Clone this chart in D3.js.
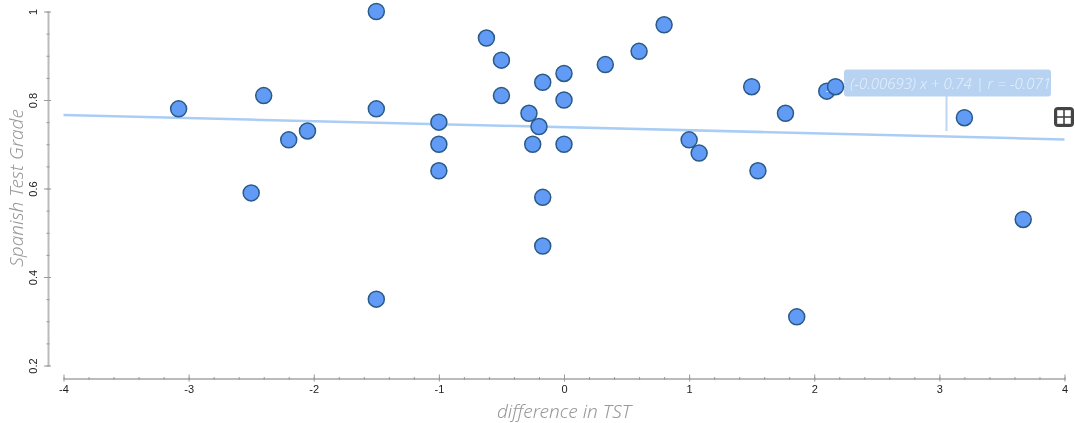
<!DOCTYPE html>
<html>
<head>
<meta charset="utf-8">
<script src="https://cdn.jsdelivr.net/npm/d3@7"></script>
<style>
  html, body { margin: 0; padding: 0; background: #fff; }
  svg { display: block; filter: blur(0.45px); }
</style>
</head>
<body>
<svg width="1075" height="423"></svg>
<script>
// values
var diffTST = [-3.08, -2.5, -2.4, -2.2, -2.05, -1.5, -1.5, -1.5, -1, -1, -1, -0.62, -0.5, -0.5, -0.28, -0.25, -0.2, -0.17, -0.17, -0.17, 0, 0, 0, 0.33, 0.6, 0.8, 1, 1.08, 1.5, 1.55, 1.77, 1.86, 2.1, 3.2, 3.67];
var spanish = [0.78, 0.59, 0.81, 0.71, 0.73, 1, 0.78, 0.35, 0.75, 0.7, 0.64, 0.94, 0.89, 0.81, 0.77, 0.7, 0.74, 0.84, 0.58, 0.47, 0.86, 0.8, 0.7, 0.88, 0.91, 0.97, 0.71, 0.68, 0.83, 0.64, 0.77, 0.31, 0.82, 0.76, 0.53];
// this one sits on top of the label
var topX = [2.17];
var topY = [0.83];
var trendX = [-4, 4];
var trendY = [0.766, 0.711];
var xTicks = [-4, -3, -2, -1, 0, 1, 2, 3, 4];
var yTicks = [0.2, 0.4, 0.6, 0.8, 1];
var xLabel = "difference in TST";
var yLabel = "Spanish Test Grade";
var fitLabel = "y = (-0.00693) x + 0.74 | r = -0.071";

var svg = d3.select("svg");
var x = d3.scaleLinear().domain([-4, 4]).range([63.5, 1064.5]);
var y = d3.scaleLinear().domain([0.2, 1]).range([365.5, 11.5]);

var handFont = "'Noto Sans', sans-serif";

// axes, major ticks plus small ticks in between
var xaxis = svg.append("g").attr("transform", "translate(0,378.5)");
xaxis.call(d3.axisBottom(x).tickValues(d3.range(-4, 4.01, 0.2)).tickSize(0).tickFormat(""));
xaxis.call(g => g.selectAll(".tick line").attr("y1", -1.5).attr("y2", 1.5).attr("stroke", "#999"));
var xmajor = svg.append("g").attr("transform", "translate(0,378.5)");
xmajor.call(d3.axisBottom(x).tickValues(xTicks).tickSize(4).tickFormat(function (d) { return String(d); }));
xmajor.selectAll(".tick line").attr("y1", -4).attr("y2", 3).attr("stroke", "#999");
xmajor.selectAll("text").attr("y", 7).attr("font-size", 11).attr("font-family", "'Liberation Sans', sans-serif").attr("fill", "#222");
xaxis.select(".domain").attr("stroke", "#bbb").attr("stroke-width", 2);
xmajor.select(".domain").remove();

var yaxis = svg.append("g").attr("transform", "translate(48,0)");
yaxis.call(d3.axisLeft(y).tickValues(d3.range(0.2, 1.001, 0.05)).tickSize(0).tickFormat(""));
yaxis.selectAll(".tick line").attr("x1", -1.5).attr("x2", 1.5).attr("stroke", "#999");
var ymajor = svg.append("g").attr("transform", "translate(48,0)");
ymajor.call(d3.axisLeft(y).tickValues(yTicks).tickSize(4).tickFormat(function (d) { return String(d); }));
ymajor.selectAll(".tick line").attr("x1", -4).attr("x2", 3).attr("stroke", "#999");
ymajor.selectAll("text")
  .attr("transform", "rotate(-90)")
  .attr("x", 0).attr("y", -11).attr("dy", 0)
  .attr("text-anchor", "middle")
  .attr("font-size", 11).attr("font-family", "'Liberation Sans', sans-serif").attr("fill", "#222");
yaxis.select(".domain").attr("stroke", "#bbb").attr("stroke-width", 2);
ymajor.select(".domain").remove();

// axis titles
svg.append("text")
  .attr("x", 564).attr("y", 418)
  .attr("text-anchor", "middle")
  .attr("font-family", handFont).attr("font-style", "italic").attr("font-weight", 300)
  .attr("font-size", 19).attr("fill", "#999")
  .text(xLabel);
svg.append("text")
  .attr("transform", "translate(23,188) rotate(-90)")
  .attr("text-anchor", "middle")
  .attr("font-family", handFont).attr("font-style", "italic").attr("font-weight", 300)
  .attr("font-size", 19).attr("fill", "#999")
  .text(yLabel);

// regression line
svg.append("line")
  .attr("x1", x(trendX[0])).attr("y1", y(trendY[0]))
  .attr("x2", x(trendX[1])).attr("y2", y(trendY[1]))
  .attr("stroke", "#aacdf5").attr("stroke-width", 2.5);

function dots(xs, ys) {
  svg.append("g").selectAll("circle")
    .data(xs)
    .enter().append("circle")
    .attr("cx", function (d) { return x(d); })
    .attr("cy", function (d, i) { return y(ys[i]); })
    .attr("r", 8)
    .attr("fill", "#619bf6")
    .attr("stroke", "#2a5a88")
    .attr("stroke-width", 1.5);
}

dots(diffTST, spanish);

// label for the fit
svg.append("line")
  .attr("x1", 946.5).attr("x2", 946.5).attr("y1", 96).attr("y2", 131)
  .attr("stroke", "#bcd6f2").attr("stroke-width", 2);
svg.append("rect")
  .attr("x", 844).attr("y", 69.5).attr("width", 207).attr("height", 27).attr("rx", 3)
  .attr("fill", "#b7d3f1");
svg.append("text")
  .attr("x", 1051).attr("y", 89)
  .attr("text-anchor", "end")
  .attr("font-family", handFont).attr("font-style", "italic").attr("font-weight", 300)
  .attr("font-size", 15).attr("fill", "#e3eefa")
  .text(fitLabel);

dots(topX, topY);

// table icon on the right
var icon = svg.append("g").attr("transform", "translate(1054,107)");
icon.append("rect").attr("width", 20).attr("height", 20).attr("rx", 4).attr("fill", "#444");
[3.2, 10.8].forEach(function (a) {
  [3.2, 10.8].forEach(function (b) {
    icon.append("rect").attr("x", a).attr("y", b).attr("width", 6).attr("height", 6).attr("fill", "#fff");
  });
});
</script>
</body>
</html>
